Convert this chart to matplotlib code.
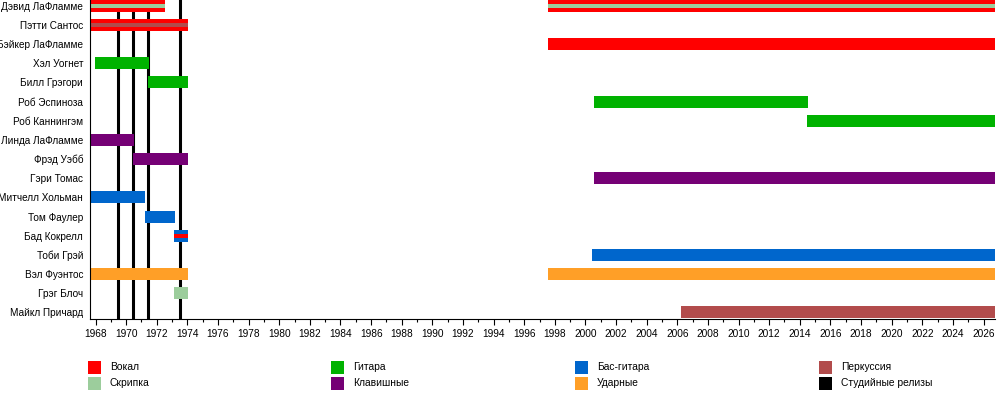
import matplotlib
matplotlib.use("Agg")
import matplotlib.pyplot as plt
from matplotlib.patches import Rectangle
from matplotlib.ticker import MultipleLocator

plt.rcParams['font.family'] = ['Liberation Sans', 'DejaVu Sans']

# ---- data ----
members = ["Дэвид ЛаФламме", "Пэтти Сантос", "Бэйкер ЛаФламме", "Хэл Уогнет",
           "Билл Грэгори", "Роб Эспиноза", "Роб Каннингэм", "Линда ЛаФламме",
           "Фрэд Уэбб", "Гэри Томас", "Митчелл Хольман", "Том Фаулер",
           "Бад Кокрелл", "Тоби Грэй", "Вэл Фуэнтос", "Грэг Блоч", "Майкл Причард"]

START = 1967.64
END = 2026.75

# main bars: member, start, end, role
bar_member = ["Дэвид ЛаФламме", "Дэвид ЛаФламме", "Пэтти Сантос", "Бэйкер ЛаФламме",
              "Хэл Уогнет", "Билл Грэгори", "Роб Эспиноза", "Роб Каннингэм",
              "Линда ЛаФламме", "Фрэд Уэбб", "Гэри Томас", "Митчелл Хольман",
              "Том Фаулер", "Бад Кокрелл", "Тоби Грэй", "Вэл Фуэнтос", "Вэл Фуэнтос",
              "Грэг Блоч", "Майкл Причард"]
bar_start = [START, 1997.56, START, 1997.56,
             1967.97, 1971.42, 2000.56, 2014.5,
             START, 1970.46, 2000.56, START,
             1971.2, 1973.13, 2000.42, START, 1997.56,
             1973.13, 2006.25]
bar_end = [1972.54, END, 1974.02, END,
           1971.5, 1974.02, 2014.54, END,
           1970.5, 1974.02, END, 1971.23,
           1973.2, 1974.02, END, 1974.02, END,
           1974.02, END]
bar_role = ["vocals", "vocals", "vocals", "vocals",
            "guitar", "guitar", "guitar", "guitar",
            "keys", "keys", "keys", "bass",
            "bass", "bass", "bass", "drums", "drums",
            "violin", "percussion"]

# thin stripes (secondary instruments)
stripe_member = ["Дэвид ЛаФламме", "Дэвид ЛаФламме", "Пэтти Сантос", "Бад Кокрелл"]
stripe_start = [START, 1997.56, START, 1973.13]
stripe_end = [1972.54, END, 1974.02, 1974.02]
stripe_role = ["violin", "violin", "percussion", "vocals"]

# studio releases
studio_years = [1969.50, 1970.48, 1971.46, 1973.49]

roles = ["vocals", "violin", "guitar", "keys", "bass", "drums", "percussion", "studio"]
role_labels = ["Вокал", "Скрипка", "Гитара", "Клавишные", "Бас-гитара", "Ударные",
               "Перкуссия", "Студийные релизы"]
role_colors = {"vocals": "#ff0000", "violin": "#9ccd9c", "guitar": "#00b200",
               "keys": "#750075", "bass": "#0066cc", "drums": "#ff9f27",
               "percussion": "#b24c4c", "studio": "#000000"}

# ---- figure ----
W, H = 1000, 408
fig = plt.figure(figsize=(W / 100, H / 100), dpi=100)
ax = fig.add_axes([90 / W, 1 - 319 / H, 905 / W, 319 / H])

row = {m: i for i, m in enumerate(members)}

for x in studio_years:
    ax.axvline(x, color=role_colors["studio"], lw=2.2, zorder=1)

bh = 0.626
for m, s, e, r in zip(bar_member, bar_start, bar_end, bar_role):
    ax.barh(row[m], e - s, left=s, height=bh, color=role_colors[r], lw=0, zorder=2)

sh = 0.21
for m, s, e, r in zip(stripe_member, stripe_start, stripe_end, stripe_role):
    ax.barh(row[m], e - s, left=s, height=sh, color=role_colors[r], lw=0, zorder=3)

ax.set_xlim(START, END)
ax.set_ylim(16.34, -0.30)

for sp in ["top", "right"]:
    ax.spines[sp].set_visible(False)
for sp in ["left", "bottom"]:
    ax.spines[sp].set_linewidth(0.8)
    ax.spines[sp].set_color("black")
    ax.spines[sp].set_zorder(5)

ax.xaxis.set_major_locator(MultipleLocator(2))
ax.xaxis.set_minor_locator(MultipleLocator(1))
ax.set_xticks(range(1968, 2027, 2))
ax.set_xticklabels([str(y) for y in range(1968, 2027, 2)])
ax.tick_params(axis="x", which="major", length=4, width=0.8, pad=3, labelsize=7.3)
ax.tick_params(axis="x", which="minor", length=2, width=0.8)
ax.set_yticks(range(len(members)))
ax.set_yticklabels(members)
ax.tick_params(axis="y", length=0, pad=5, labelsize=7.2)

# ---- legend (manual) ----
col_x = [88, 331, 575, 819]
row_top = [361, 377]
sq = 13
for i, (r, lab) in enumerate(zip(roles, role_labels)):
    c, rr = divmod(i, 2)
    x0 = col_x[c]
    y0 = row_top[rr]
    fig.add_artist(Rectangle((x0 / W, 1 - (y0 + sq) / H), sq / W, sq / H,
                             transform=fig.transFigure, color=role_colors[r], lw=0))
    fig.text((x0 + 22) / W, 1 - (y0 + sq / 2) / H, lab, fontsize=7.4,
             va="center", ha="left")

fig.savefig("out.png", dpi=100)
